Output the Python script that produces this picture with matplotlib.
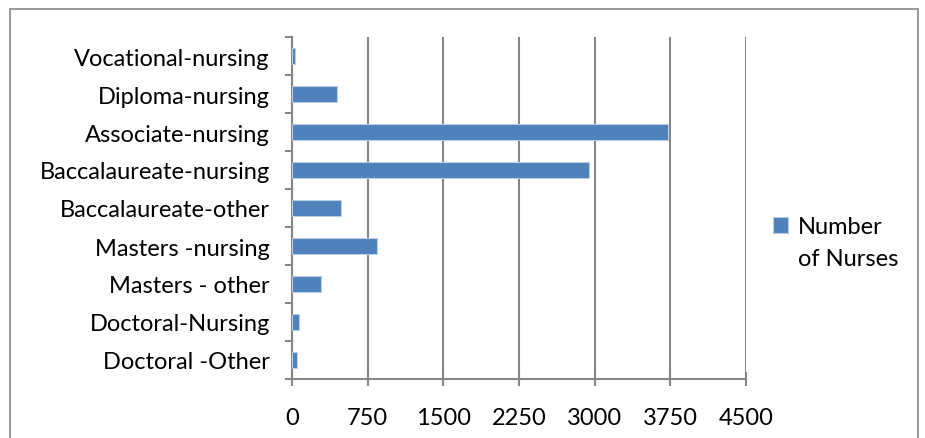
import matplotlib.pyplot as plt
from matplotlib.patches import Rectangle
import numpy as np

categories = ['Vocational-nursing', 'Diploma-nursing', 'Associate-nursing',
              'Baccalaureate-nursing', 'Baccalaureate-other', 'Masters -nursing',
              'Masters - other', 'Doctoral-Nursing', 'Doctoral -Other']
nurses = [25, 445, 3730, 2940, 482, 839, 284, 66, 47]
xticks = [0, 750, 1500, 2250, 3000, 3750, 4500]

plt.rcParams['font.family'] = ['Lato', 'DejaVu Sans']
fs = 17

fig = plt.figure(figsize=(9.25, 4.39), dpi=100)
ax = fig.add_axes([292/925, 1-380/439, (746-292)/925, (380-38)/439])

y = np.arange(len(categories))
ax.barh(y, nurses, height=0.42, color='#4F81BD', edgecolor='#B9CDE5',
        linewidth=0.8, label='Number', zorder=3)

ax.set_xlim(0, 4500)
ax.set_ylim(len(categories) - 0.5, -0.5)
ax.set_xticks(xticks)
ax.set_xticklabels([str(t) for t in xticks], fontsize=fs)
ax.set_yticks(y)
ax.set_yticklabels(categories, fontsize=fs)
ax.set_yticks(np.arange(len(categories) + 1) - 0.5, minor=True)
ax.tick_params(axis='y', which='major', length=0, pad=16)
ax.tick_params(axis='y', which='minor', length=5, width=1.5, color='#868686', direction='out')
ax.tick_params(axis='x', length=10, width=1.5, color='#868686', direction='inout', pad=15)

ax.grid(axis='x', color='#868686', linewidth=1.5, zorder=0)
for s in ['top', 'right']:
    ax.spines[s].set_visible(False)
for s in ['left', 'bottom']:
    ax.spines[s].set_color('#868686')
    ax.spines[s].set_linewidth(1.5)

# legend: first line with the swatch, second line as plain text below
fig.legend(loc='center left', bbox_to_anchor=(773/925, 1-228/439), frameon=False,
           fontsize=fs, handlelength=0.64, handleheight=0.64, handletextpad=0.42,
           borderpad=0, borderaxespad=0)
fig.text(798/925, 1-260/439, 'of Nurses', fontsize=fs, va='center', ha='left')

fig.patches.append(Rectangle((10/925, -0.1), 908/925, 1.1 - 10/439, transform=fig.transFigure,
                             fill=False, edgecolor='#868686', linewidth=1.2))

fig.savefig('out.png', dpi=100)
